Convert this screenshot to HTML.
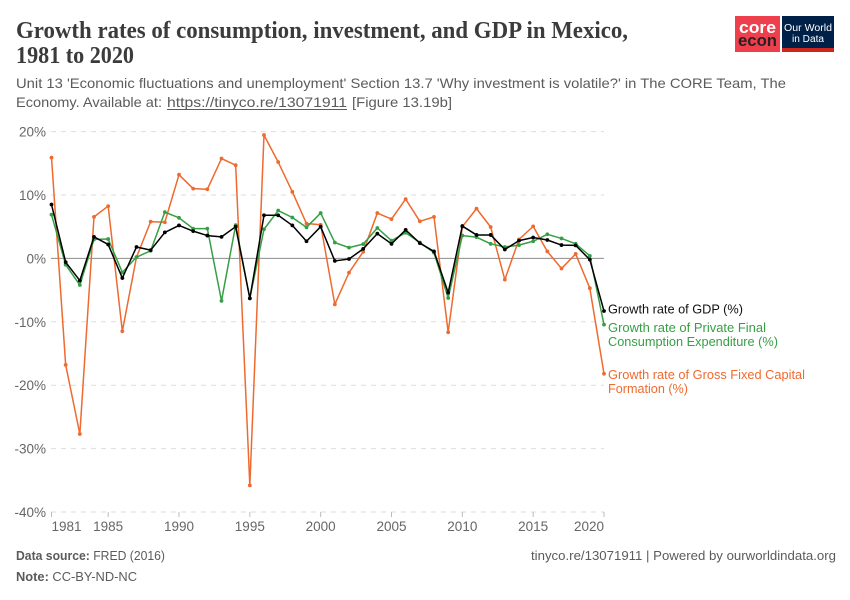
<!DOCTYPE html>
<html lang="en">
<head>
<meta charset="utf-8">
<title>Growth rates of consumption, investment, and GDP in Mexico, 1981 to 2020</title>
<style>
html,body{margin:0;padding:0;background:#fff}
svg{display:block}
text{font-family:"Liberation Sans",sans-serif}
.title{font-family:"Liberation Serif",serif;font-weight:700;font-size:24px;fill:#3b3b3b}
.sub{font-size:14px;fill:#5b5b5b}
.tick{font-size:13.5px;fill:#666}
.foot{font-size:12.5px;fill:#5b5b5b}
.leg{font-size:13px}
</style>
</head>
<body>
<svg id="chart" width="850" height="600" viewBox="0 0 850 600" xmlns="http://www.w3.org/2000/svg">
  <rect width="850" height="600" fill="#fff"/>
  <text class="title" x="16" y="38" textLength="612" lengthAdjust="spacingAndGlyphs">Growth rates of consumption, investment, and GDP in Mexico,</text>
  <text class="title" x="16" y="63" textLength="118" lengthAdjust="spacingAndGlyphs">1981 to 2020</text>
  <text class="sub" x="16" y="88" textLength="770" lengthAdjust="spacingAndGlyphs">Unit 13 'Economic fluctuations and unemployment' Section 13.7 'Why investment is volatile?' in The CORE Team, The</text>
  <text class="sub" x="16" y="107" textLength="146" lengthAdjust="spacingAndGlyphs">Economy. Available at:</text>
  <text class="sub" x="167" y="107" textLength="180" lengthAdjust="spacingAndGlyphs">https://tinyco.re/13071911</text>
  <line x1="167" y1="109.5" x2="347" y2="109.5" stroke="#5b5b5b" stroke-width="1"/>
  <text class="sub" x="352" y="107" textLength="100" lengthAdjust="spacingAndGlyphs">[Figure 13.19b]</text>

  <g>
    <rect x="735" y="16" width="45" height="36" fill="#ee404c"/>
    <text x="757.5" y="33" text-anchor="middle" font-size="17" font-weight="700" fill="#fff" textLength="37" lengthAdjust="spacingAndGlyphs">core</text>
    <text x="757.5" y="46" text-anchor="middle" font-size="17" font-weight="700" fill="#2a1f22" textLength="39" lengthAdjust="spacingAndGlyphs">econ</text>
    <rect x="782" y="16" width="52" height="36" fill="#002147"/>
    <rect x="782" y="48" width="52" height="4" fill="#ce261e"/>
    <text x="808" y="31" text-anchor="middle" font-size="10" fill="#fff" textLength="48" lengthAdjust="spacingAndGlyphs">Our World</text>
    <text x="808" y="42" text-anchor="middle" font-size="10" fill="#fff" textLength="32" lengthAdjust="spacingAndGlyphs">in Data</text>
  </g>

  <g id="grid"></g>
  <g id="xaxis"></g>
  <g id="series"></g>

  <text class="leg" x="608" y="313.5" fill="#111" textLength="135" lengthAdjust="spacingAndGlyphs">Growth rate of GDP (%)</text>
  <text class="leg" x="608" y="332" fill="#359f45" textLength="158" lengthAdjust="spacingAndGlyphs">Growth rate of Private Final</text>
  <text class="leg" x="608" y="346" fill="#359f45" textLength="170" lengthAdjust="spacingAndGlyphs">Consumption Expenditure (%)</text>
  <text class="leg" x="608" y="379" fill="#ee6a2f" textLength="197" lengthAdjust="spacingAndGlyphs">Growth rate of Gross Fixed Capital</text>
  <text class="leg" x="608" y="393" fill="#ee6a2f" textLength="80" lengthAdjust="spacingAndGlyphs">Formation (%)</text>

  <text class="foot" x="16" y="560" textLength="149" lengthAdjust="spacingAndGlyphs"><tspan font-weight="700">Data source:</tspan> FRED (2016)</text>
  <text class="foot" x="16" y="581" textLength="121" lengthAdjust="spacingAndGlyphs"><tspan font-weight="700">Note:</tspan> CC-BY-ND-NC</text>
  <text class="foot" x="836" y="560" text-anchor="end" textLength="305" lengthAdjust="spacingAndGlyphs">tinyco.re/13071911 | Powered by ourworldindata.org</text>
</svg>
<script>
const years = [1981,1982,1983,1984,1985,1986,1987,1988,1989,1990,1991,1992,1993,1994,1995,1996,1997,1998,1999,2000,2001,2002,2003,2004,2005,2006,2007,2008,2009,2010,2011,2012,2013,2014,2015,2016,2017,2018,2019,2020];
const investment = [15.9,-16.8,-27.7,6.55,8.25,-11.5,0.2,5.8,5.7,13.2,11,10.9,15.75,14.7,-35.8,19.45,15.2,10.5,5.5,5.3,-7.25,-2.25,1.05,7.15,6.2,9.35,5.85,6.55,-11.65,5,7.85,4.95,-3.35,3,5.05,1.1,-1.6,0.7,-4.7,-18.2];
const consumption = [6.9,-1,-4.2,3,3.05,-2.2,0.2,1.2,7.3,6.4,4.7,4.7,-6.7,5.25,-6.3,4.6,7.55,6.45,4.9,7.15,2.5,1.7,2.25,4.8,2.8,4.05,2.5,0.9,-6.25,3.6,3.35,2.3,1.8,2.1,2.7,3.8,3.15,2.3,0.4,-10.45];
const gdp = [8.5,-0.6,-3.5,3.4,2.2,-3.1,1.8,1.3,4.1,5.2,4.3,3.6,3.4,5,-6.3,6.8,6.8,5.2,2.7,5,-0.4,-0.1,1.5,3.9,2.3,4.5,2.4,1.1,-5.4,5.1,3.7,3.7,1.4,2.8,3.3,2.9,2.1,2.05,-0.2,-8.3];
const yTicks = [20,10,0,-10,-20,-30,-40];
const xTicks = [1981,1985,1990,1995,2000,2005,2010,2015,2020];

const NS = 'http://www.w3.org/2000/svg';
const xScale = v => 51.5 + (v - 1981) * (604 - 51.5) / (2020 - 1981);
const yScale = v => 258.4 - v * 6.34;

function make(tag, attrs, parent) {
  const el = document.createElementNS(NS, tag);
  for (const k in attrs) el.setAttribute(k, attrs[k]);
  parent.appendChild(el);
  return el;
}

const grid = document.getElementById('grid');
yTicks.forEach(t => {
  const line = make('line', {x1: 51, x2: 604, y1: yScale(t), y2: yScale(t),
    stroke: t === 0 ? '#8c8c8c' : '#dddddd', 'stroke-width': 1,
    'stroke-dasharray': t === 0 ? 'none' : '5 5'}, grid);
  
  
  const label = make('text', {x: 46, y: yScale(t) + 5, 'text-anchor': 'end', class: 'tick'}, grid);
  
  
  label.textContent = t + '%';
});

const xaxis = document.getElementById('xaxis');
xTicks.forEach((t, i) => {
  const tick = make('line', {x1: xScale(t), x2: xScale(t), y1: yScale(-40), y2: yScale(-40) + 5,
    stroke: '#bbbbbb', 'stroke-width': 1}, xaxis);
  
  
  const anchor = i === 0 ? 'start' : (i === xTicks.length - 1 ? 'end' : 'middle');
  const label = make('text', {x: xScale(t), y: 531, 'text-anchor': anchor, class: 'tick'}, xaxis);
  
  
  label.textContent = t;
});

function drawSeries(name, values, color, width, r) {
  const g = make('g', {}, document.getElementById('series'));
  
  
  const pts = values.map((v, i) => xScale(years[i]).toFixed(2) + ',' + yScale(v).toFixed(2)).join(' ');
  const line = make('polyline', {points: pts, fill: 'none', stroke: color, 'stroke-width': width, 'stroke-linejoin': 'round'}, g);
  
  
  values.forEach((v, i) => {
    const dot = make('circle', {cx: xScale(years[i]), cy: yScale(v), r: r, fill: color}, g);
    
    
  });
}
drawSeries('investment', investment, '#ee6a2f', 1.5, 1.9);
drawSeries('consumption', consumption, '#359f45', 1.5, 1.9);
drawSeries('gdp', gdp, '#000000', 1.5, 1.9);
</script>
</body>
</html>
